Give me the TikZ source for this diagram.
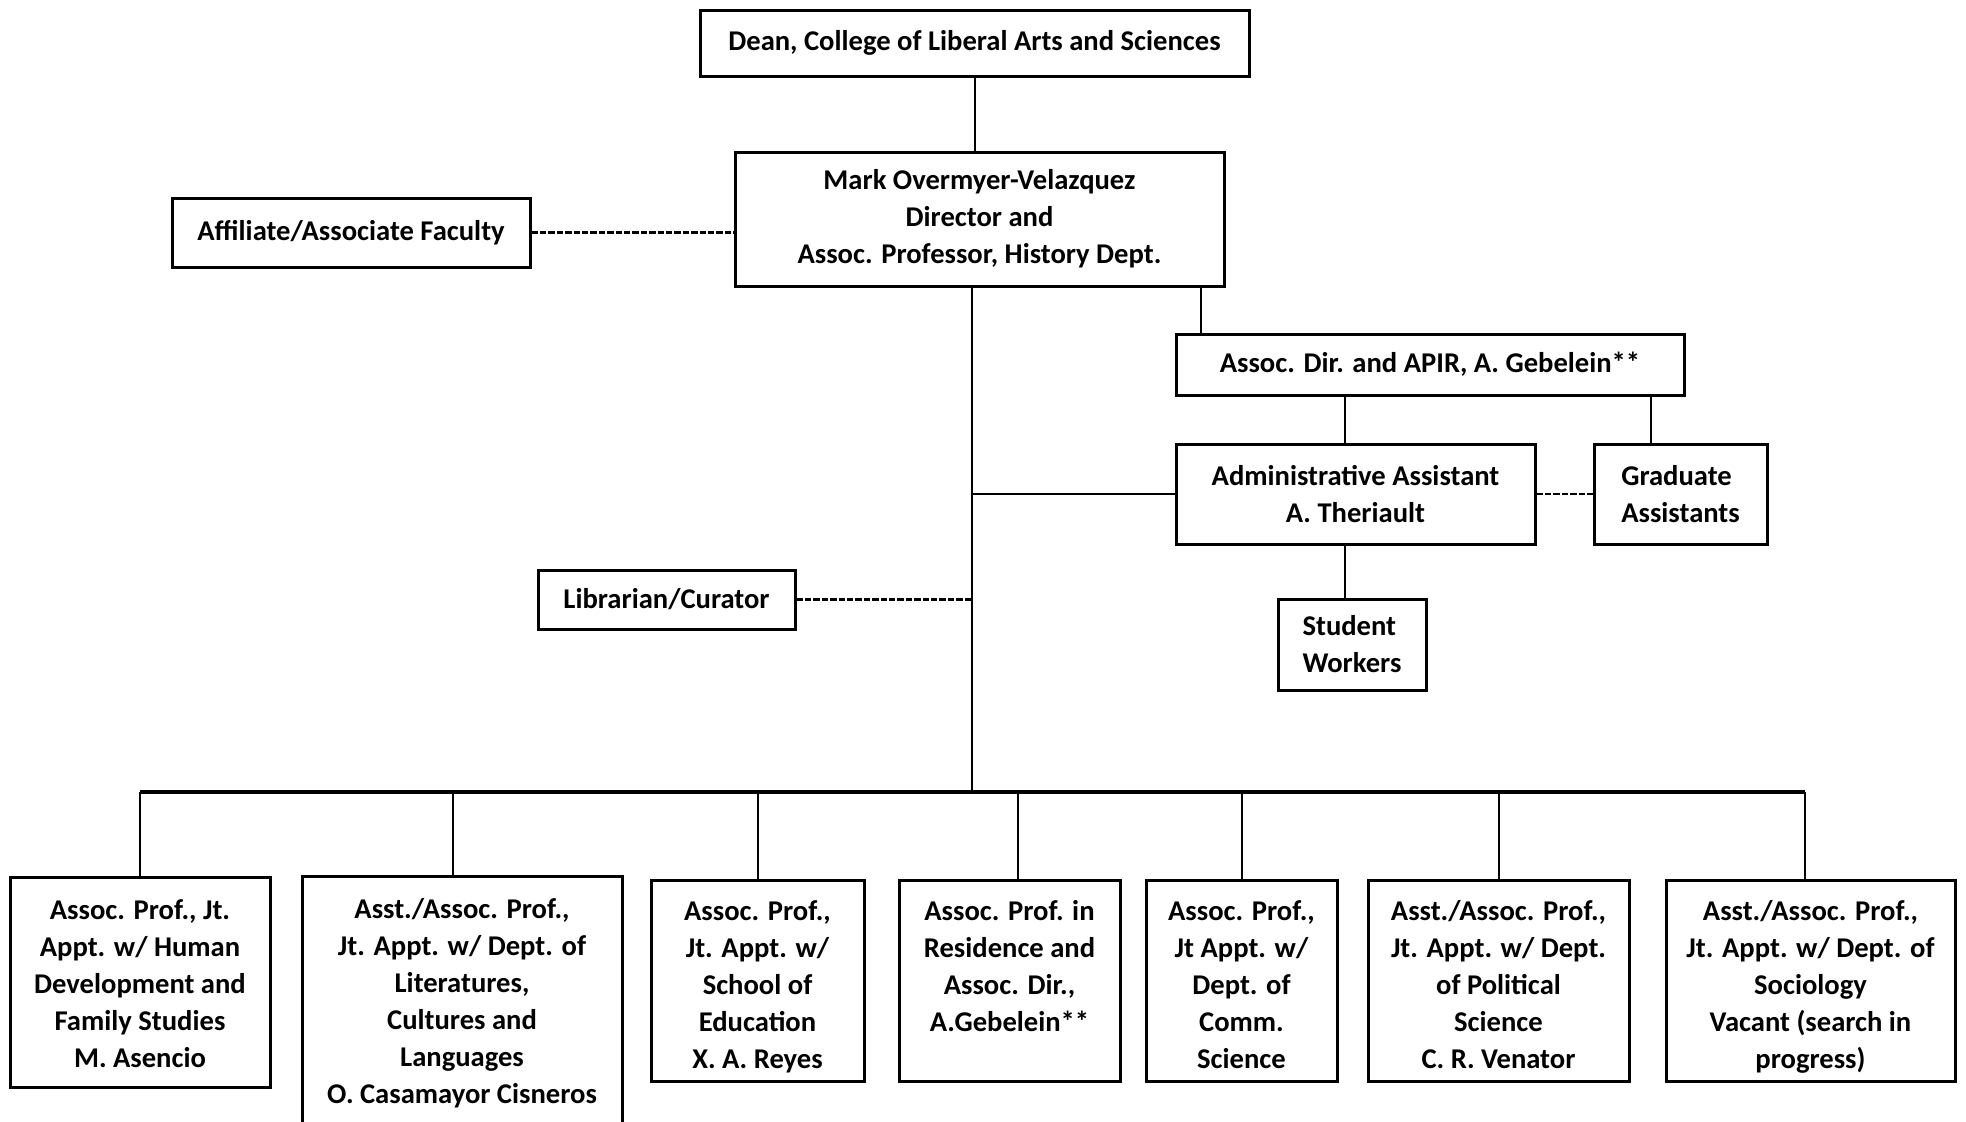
\documentclass[tikz,border=0pt]{standalone}
\usepackage{fontspec}
\setmainfont{Carlito}
\usetikzlibrary{positioning,calc}

\begin{document}
\begin{tikzpicture}[x=0.5pt,y=-0.5pt,
    font=\bfseries\fontsize{14.3}{18.5}\selectfont,
    box/.style={draw,line width=1.5pt,align=center,inner sep=0pt},
    fac/.style={box,anchor=north,text height=94.1pt,text depth=6.4pt},
    link/.style={line width=1pt},
    bus/.style={line width=1.7pt},
    dotlink/.style={line width=1.3pt,dash pattern=on 3.2pt off 1pt}]
  \useasboundingbox (0,0) rectangle (1966,1121);
  % top of the chart
  \node[box,minimum width=274.5pt,minimum height=33pt] (dean) at (974.5,43) {Dean, College of Liberal Arts and Sciences};
  \node[box,minimum width=244.5pt,minimum height=67pt] (dir) at (979.5,219) {Mark Overmyer-Velazquez\\Director and\\Assoc. Professor, History Dept.};
  \node[box,minimum width=179pt,minimum height=34.5pt] (aff) at (351,232.5) {Affiliate/Associate Faculty};
  \node[box,minimum width=254pt,minimum height=30.5pt] (adir) at (1430,364.5) {Assoc. Dir. and APIR, A. Gebelein**};
  \node[box,minimum width=179.5pt,minimum height=50pt] (asst) at (1355.5,494) {Administrative Assistant\\A. Theriault};
  \node[box,align=left,minimum width=86.5pt,minimum height=50pt] (grad) at (1680.5,494) {Graduate\\Assistants};
  \node[box,minimum width=128.5pt,minimum height=29.5pt] (lib) at (666.5,599.5) {Librarian/Curator};
  \node[box,align=left,minimum width=74pt,minimum height=45.5pt] (stud) at (1352,644.5) {Student\\Workers};
  % faculty row
  \node[fac,minimum width=130pt,text height=95.1pt,text depth=9.9pt] (f_1) at (140,876) {Assoc. Prof., Jt.\\Appt. w/ Human\\Development and\\Family Studies\\M. Asencio};
  \node[fac,minimum width=160pt,text height=113.5pt,text depth=30pt] (f_2) at (462,875) {Asst./Assoc. Prof.,\\Jt. Appt. w/ Dept. of\\Literatures,\\Cultures and\\Languages\\O. Casamayor Cisneros};
  \node[fac,minimum width=106.5pt] (f_3) at (757.5,879) {Assoc. Prof.,\\Jt. Appt. w/\\School of\\Education\\X. A. Reyes};
  \node[fac,minimum width=110.5pt,text height=75.6pt,text depth=24.9pt] (f_4) at (1009.5,879) {Assoc. Prof. in\\Residence and\\Assoc. Dir.,\\A.Gebelein**};
  \node[fac,minimum width=95.5pt] (f_5) at (1241.5,879) {Assoc. Prof.,\\Jt Appt. w/\\Dept. of\\Comm.\\Science};
  \node[fac,minimum width=130.5pt] (f_6) at (1498.5,879) {Asst./Assoc. Prof.,\\Jt. Appt. w/ Dept.\\of Political\\Science\\C. R. Venator};
  \node[fac,minimum width=144.5pt] (f_7) at (1810.5,879) {Asst./Assoc. Prof.,\\Jt. Appt. w/ Dept. of\\Sociology\\Vacant (search in\\progress)};
  % lines
  \coordinate (hub) at (972,792);
  \coordinate (tap) at ([xshift=110.75pt]dir.south);
  \coordinate (stem) at ([xshift=-5.25pt]asst.north);
  \coordinate (gstem) at ([xshift=-14.75pt]grad.north);
  \draw[link] (dean.south) -- (dean.south |- dir.north);
  \draw[link] (dir.south -| hub) -- (hub);
  \draw[link] (tap) -- (tap |- adir.north);
  \draw[link] (stem |- adir.south) -- (stem);
  \draw[link] (gstem |- adir.south) -- (gstem);
  \draw[link] (asst.south -| stem) -- (stud.north -| stem);
  \draw[link] (asst.west) -- (asst.west -| hub);
  \draw[dotlink] (asst.east) -- (grad.west);
  \draw[dotlink] (aff.east) -- (aff.east -| dir.west);
  \draw[dotlink] (lib.east) -- (lib.east -| hub);
  \draw[bus] (f_1.north |- hub) -- ([xshift=-3pt]f_7.north |- hub);
  \foreach \i/\dx in {1/0,2/-4.5,3/0,4/4.25,5/0,6/0,7/-3}
    \draw[link] ([xshift=\dx pt]f_\i.north) -- ([xshift=\dx pt]f_\i.north |- hub);
\end{tikzpicture}
\end{document}
